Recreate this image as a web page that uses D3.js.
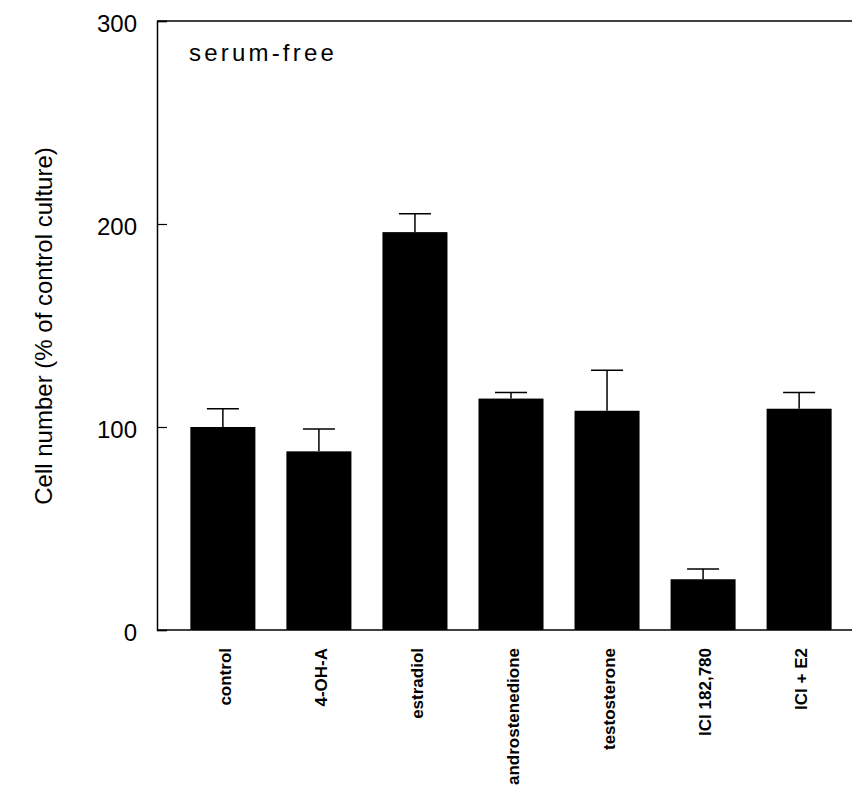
<!DOCTYPE html>
<html>
<head>
<meta charset="utf-8">
<script src="https://cdn.jsdelivr.net/npm/d3@7"></script>
<style>
  body { margin: 0; background: #fff; }
  text { font-family: "Liberation Sans", Arial, sans-serif; fill: #000; }
</style>
</head>
<body>
<div id="chart"></div>
<script>
// values
const categories = ["control", "4-OH-A", "estradiol", "androstenedione", "testosterone", "ICI 182,780", "ICI + E2"];
const means = [100, 88, 196, 114, 108, 25, 109];
const errors = [9, 11, 9, 3, 20, 5, 8];
const yTicks = [0, 100, 200, 300];

const width = 854, height = 786;

let svg = d3.select("#chart").append("svg")
    .attr("width", width)
    .attr("height", height);

let y = d3.scaleLinear().domain([0, 300]).range([630, 21]);
let x = d3.scaleBand().domain(categories).range([175, 847])
    .paddingInner(0.323).paddingOuter(0.16);

let left = 157, right = 852;

// frame: top line and bottom line
svg.append("line").attr("x1", left).attr("x2", right).attr("y1", y(300)).attr("y2", y(300))
    .attr("stroke", "#000").attr("stroke-width", 1.5);
svg.append("line").attr("x1", left).attr("x2", right).attr("y1", y(0)).attr("y2", y(0))
    .attr("stroke", "#000").attr("stroke-width", 1.5);

let yAxis = svg.append("g")
    .attr("transform", "translate(" + left + ",0)")
    .call(d3.axisLeft(y).tickValues(yTicks).tickSize(-10).tickPadding(20).tickFormat(d3.format("d")));
yAxis.select(".domain").attr("stroke", "#000").attr("stroke-width", 1.5);
yAxis.selectAll(".tick line").attr("stroke", "#000").attr("stroke-width", 1.2);
yAxis.selectAll(".tick text")
    .attr("font-size", 24)
    .attr("font-family", "'Liberation Sans', Arial, sans-serif")
    .attr("dy", "0.45em");

// bars
svg.selectAll("rect.bar")
    .data(categories)
  .enter()
    .append("rect")
    .attr("class", "bar")
    .attr("x", d => x(d))
    .attr("width", x.bandwidth())
    .attr("y", (d, i) => y(means[i]))
    .attr("height", (d, i) => y(0) - y(means[i]))
    .attr("fill", "#000");

// error bars (upper only)
let err = svg.selectAll("g.err")
    .data(categories)
  .enter()
    .append("g")
    .attr("class", "err");
err.append("line")
    .attr("x1", d => x(d) + x.bandwidth() / 2)
    .attr("x2", d => x(d) + x.bandwidth() / 2)
    .attr("y1", (d, i) => y(means[i]))
    .attr("y2", (d, i) => y(means[i] + errors[i]))
    .attr("stroke", "#000").attr("stroke-width", 1.5);
err.append("line")
    .attr("x1", d => x(d) + x.bandwidth() / 2 - 16)
    .attr("x2", d => x(d) + x.bandwidth() / 2 + 16)
    .attr("y1", (d, i) => y(means[i] + errors[i]))
    .attr("y2", (d, i) => y(means[i] + errors[i]))
    .attr("stroke", "#000").attr("stroke-width", 1.5);

// category labels, rotated
svg.selectAll("text.cat")
    .data(categories)
  .enter()
    .append("text")
    .attr("class", "cat")
    .attr("transform", d => "translate(" + (x(d) + x.bandwidth() / 2 + 8) + ",648) rotate(-90)")
    .attr("text-anchor", "end")
    .attr("font-size", 17)
    .attr("font-weight", "bold")
    .text(d => d);

// y axis title
svg.append("text")
    .attr("transform", "translate(52,326) rotate(-90)")
    .attr("text-anchor", "middle")
    .attr("font-size", 24)
    .text("Cell number (% of control culture)");

// panel label
svg.append("text")
    .attr("x", 189)
    .attr("y", 61)
    .attr("font-size", 24)
    .attr("letter-spacing", 3.2)
    .text("serum-free");
</script>
</body>
</html>
